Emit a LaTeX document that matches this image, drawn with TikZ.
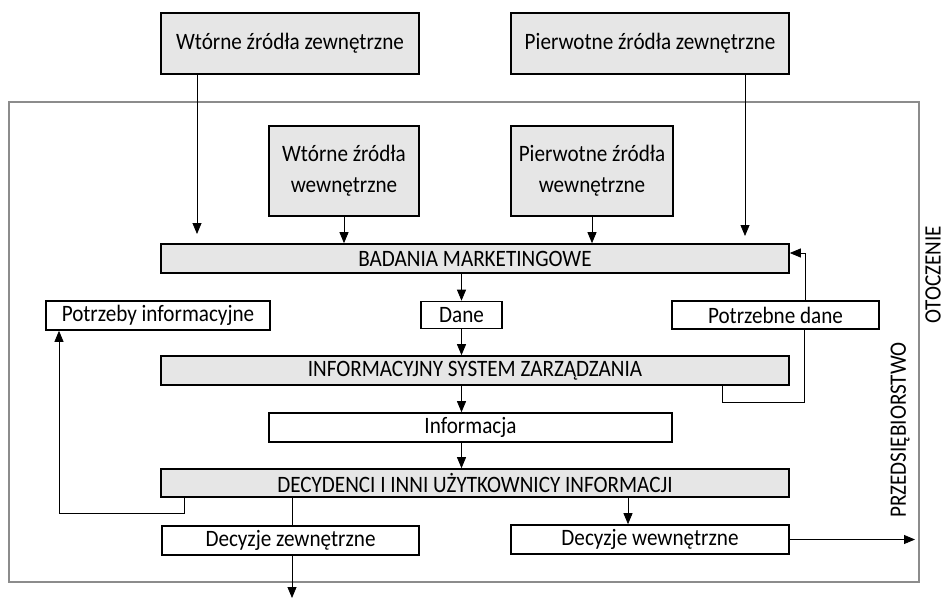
\documentclass[tikz,border=0pt]{standalone}
\usepackage{fontspec}
\setmainfont{Carlito}[FakeStretch=0.9]
\usetikzlibrary{arrows.meta}
\definecolor{BoxGray}{RGB}{230,230,230}
\definecolor{FrameGray}{RGB}{140,140,140}

\begin{document}
\begin{tikzpicture}[x=1pt,y=-1pt,>={Triangle[length=11pt,width=9pt]},
    font=\fontsize{23.5}{31}\selectfont,
    greybox/.style={draw,line width=1.6pt,fill=BoxGray,inner sep=0pt,align=center},
    whitebox/.style={draw,line width=1.6pt,fill=white,inner sep=0pt},
    link/.style={line width=0.8pt},
    arr/.style={link,->}]
  \useasboundingbox (0,0) rectangle (948,599);
  % przedsiebiorstwo
  \draw[FrameGray,line width=1.6pt] (9,102) rectangle (919,582);
  \node[rotate=90] (otoczenie) at (933,275) {OTOCZENIE};
  \node[rotate=90] (przeds) at (900,430) {PRZEDSIĘBIORSTWO};
  % zrodla
  \node[greybox,minimum width=258,minimum height=61] (wzz) at (290,43.5) {Wtórne źródła zewnętrzne};
  \node[greybox,minimum width=278,minimum height=61] (pzz) at (650,43.5) {Pierwotne źródła zewnętrzne};
  \node[greybox,minimum width=150,minimum height=90] (wzw) at (344,171) {Wtórne źródła\\wewnętrzne};
  \node[greybox,minimum width=162,minimum height=90] (pzw) at (592,171) {Pierwotne źródła\\wewnętrzne};
  % glowny ciag
  \node[greybox,minimum width=628,minimum height=29] (badania) at (475,258.5) {BADANIA MARKETINGOWE};
  \node[whitebox,minimum width=224,minimum height=29] (potrzeby) at (158,315.5) {Potrzeby informacyjne};
  \node[whitebox,minimum width=81,minimum height=27] (dane) at (461.5,315) {Dane};
  \node[whitebox,minimum width=207,minimum height=28] (potrzebne) at (775.5,315) {Potrzebne dane};
  \node[greybox,minimum width=628,minimum height=29] (isz) at (475,370.5) {INFORMACYJNY SYSTEM ZARZĄDZANIA};
  \node[whitebox,minimum width=403,minimum height=29] (informacja) at (470.5,427.5) {Informacja};
  \node[greybox,minimum width=628,minimum height=28] (decydenci) at (475,483) {DECYDENCI I INNI UŻYTKOWNICY INFORMACJI};
  \node[whitebox,minimum width=257,minimum height=29] (dzew) at (290.5,540.5) {Decyzje zewnętrzne};
  \node[whitebox,minimum width=278,minimum height=29] (dwew) at (650,539.5) {Decyzje wewnętrzne};
  % wolne konce
  \coordinate (inL) at (197,234);
  \coordinate (inR) at (745,236);
  \coordinate (outD) at (292,598);
  \coordinate (outR) at (915,539.5);
  % polaczenia
  \draw[arr] (wzz.south -| inL) -- (inL);
  \draw[arr] (pzz.south -| inR) -- (inR);
  \draw[arr] (wzw.south) -- (wzw.south |- badania.north);
  \draw[arr] (pzw.south) -- (pzw.south |- badania.north);
  \draw[arr] (dane.north |- badania.south) -- (dane.north);
  \draw[arr] (dane.south) -- (dane.south |- isz.north);
  \draw[arr] (dane.south |- isz.south) -- (dane.south |- informacja.north);
  \draw[arr] (dane.south |- informacja.south) -- (dane.south |- decydenci.north);
  \draw[link] (decydenci.south -| outD) -- (dzew.north -| outD);
  \draw[arr] (dzew.south -| outD) -- (outD);
  \draw[arr] (decydenci.south -| 628,0) -- (dwew.north -| 628,0);
  \draw[arr] (dwew.east) -- (outR);
  % sprzezenia zwrotne
  \draw[link] (isz.south -| 722,0) -- ++(0,17) -| (potrzebne.south -| 804,0);
  \draw[arr] (potrzebne.north -| 805,0) |- (badania.east |- 0,253);
  \draw[arr] (decydenci.south -| 184,0) -- ++(0,16) -| (potrzeby.south -| 59,0);
\end{tikzpicture}
\end{document}
